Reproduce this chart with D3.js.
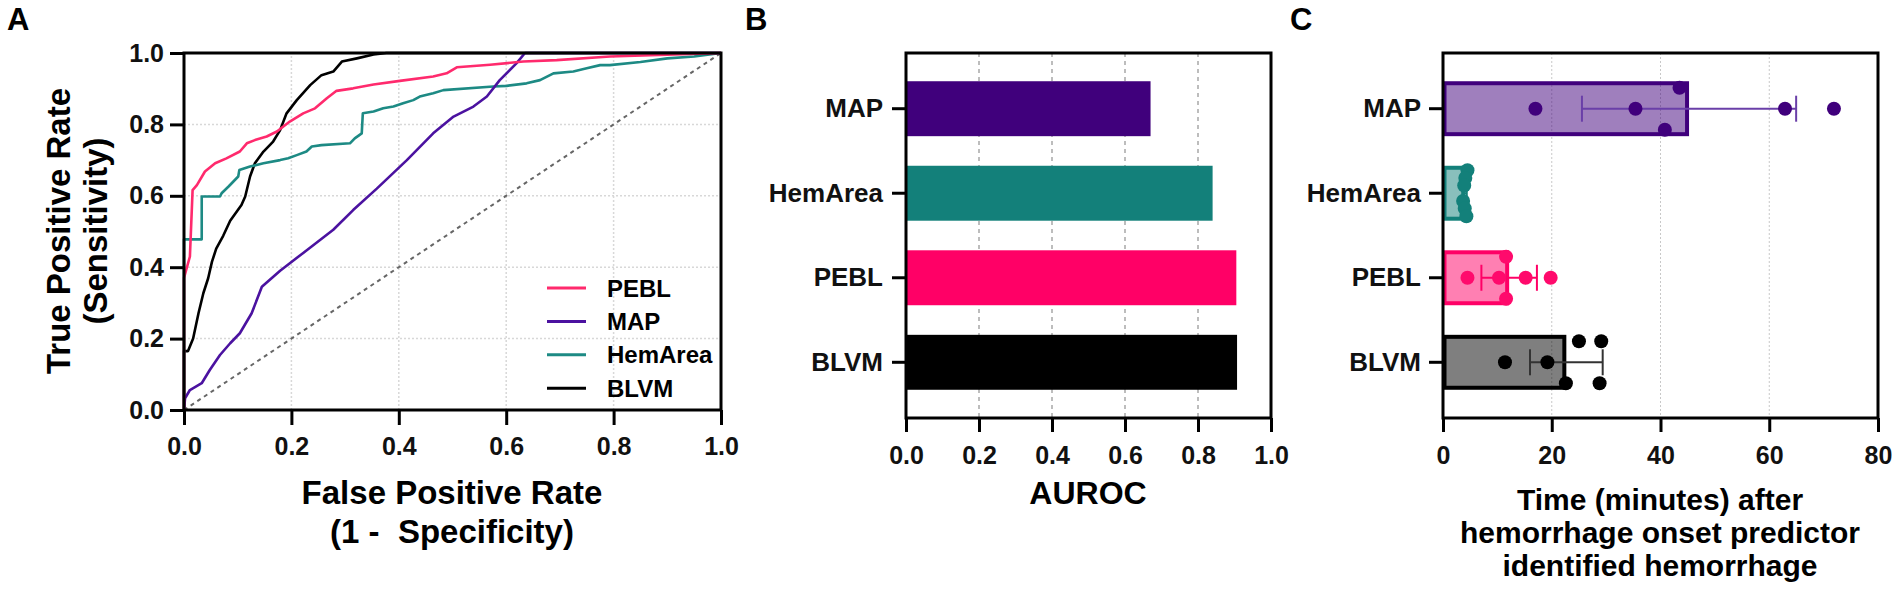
<!DOCTYPE html>
<html>
<head>
<meta charset="utf-8">
<script src="https://cdn.jsdelivr.net/npm/d3@7"></script>
<style>
  body { margin: 0; background: #fff; }
  svg { display: block; font-family: "Liberation Sans", Arial, sans-serif; font-weight: bold; }
</style>
</head>
<body>
<svg id="fig" width="1901" height="594"></svg>
<script>
// ---- data ----

// panel A: ROC curves, [false positive rate, true positive rate]
const rocPEBL = [[0,0],[0,0.37],[0.011,0.43],[0.016,0.616],[0.024,0.63],[0.039,0.668],[0.058,0.691],
  [0.079,0.705],[0.104,0.724],[0.117,0.747],[0.132,0.756],[0.154,0.766],[0.173,0.78],[0.197,0.808],
  [0.222,0.831],[0.244,0.845],[0.266,0.873],[0.284,0.894],[0.315,0.901],[0.353,0.912],[0.402,0.922],
  [0.464,0.934],[0.489,0.943],[0.508,0.96],[0.57,0.967],[0.632,0.976],[0.694,0.98],[0.793,0.99],
  [0.9,0.995],[1,1]]
const rocMAP = [[0,0],[0.002,0.033],[0.011,0.056],[0.033,0.075],[0.048,0.112],[0.067,0.154],[0.086,0.187],
  [0.104,0.215],[0.126,0.271],[0.145,0.345],[0.179,0.39],[0.222,0.44],[0.278,0.505],[0.315,0.56],
  [0.359,0.62],[0.415,0.7],[0.464,0.775],[0.502,0.822],[0.539,0.85],[0.564,0.878],[0.588,0.924],
  [0.619,0.971],[0.635,1],[1,1]]
const rocHemArea = [[0,0],[0,0.478],[0.033,0.478],[0.033,0.598],[0.067,0.598],[0.07,0.607],[0.083,0.626],
  [0.092,0.64],[0.101,0.654],[0.103,0.672],[0.123,0.682],[0.148,0.691],[0.179,0.7],[0.194,0.705],
  [0.21,0.714],[0.228,0.724],[0.238,0.738],[0.256,0.742],[0.309,0.747],[0.318,0.761],[0.331,0.775],
  [0.333,0.831],[0.353,0.836],[0.371,0.845],[0.39,0.85],[0.408,0.859],[0.427,0.868],[0.439,0.878],
  [0.464,0.887],[0.483,0.896],[0.576,0.906],[0.601,0.908],[0.638,0.915],[0.663,0.924],[0.688,0.943],
  [0.725,0.948],[0.75,0.957],[0.775,0.966],[0.793,0.966],[0.85,0.975],[0.9,0.985],[0.95,0.99],[1,1]]
const rocBLVM = [[0,0],[0,0.165],[0.0075,0.165],[0.017,0.2],[0.027,0.271],[0.036,0.327],[0.045,0.369],
  [0.052,0.415],[0.06,0.452],[0.073,0.488],[0.086,0.53],[0.097,0.553],[0.107,0.574],[0.114,0.598],
  [0.123,0.654],[0.132,0.691],[0.148,0.724],[0.166,0.752],[0.179,0.784],[0.191,0.831],[0.21,0.868],
  [0.235,0.91],[0.256,0.938],[0.278,0.948],[0.294,0.976],[0.322,0.985],[0.353,0.996],[0.377,1],[1,1]]

// panel B: area under ROC
const predictors = ['MAP', 'HemArea', 'PEBL', 'BLVM']
const aurocValues = [0.67, 0.84, 0.905, 0.907]

// panel C: minutes after onset, one value per subject
const timesMAP = [17.0, 35.4, 43.5, 40.8, 62.9, 71.9]
const timesHemArea = [3.7, 4.0, 4.3, 4.5, 4.1, 3.9]
const timesPEBL = [4.5, 10.3, 11.6, 11.6, 15.2, 19.8]
const timesBLVM = [11.4, 19.2, 25.0, 29.1, 22.6, 28.8]

const legendOrder = ['PEBL', 'MAP', 'HemArea', 'BLVM']

// ---- styling ----
const lineColor = { PEBL: '#ff2a6d', MAP: '#4b12a0', HemArea: '#1d8a84', BLVM: '#000' }
const barColor = { PEBL: '#ff0066', MAP: '#40007c', HemArea: '#13807a', BLVM: '#000' }

const svg = d3.select('#fig')

const styleAxis = (g, size) => {
  g.select('.domain').remove()
  g.selectAll('.tick line').attr('stroke', '#000').attr('stroke-width', 3)
  g.selectAll('.tick text').attr('font-size', size).attr('fill', '#111')
    .attr('font-family', '"Liberation Sans", Arial, sans-serif').attr('font-weight', 'bold')
}

const panelLetter = (txt, x) => svg.append('text').attr('x', x).attr('y', 30)
  .attr('font-size', 31).text(txt)

// ================= panel A =================
const xA = d3.scaleLinear().domain([0, 1]).range([184, 721])
const yA = d3.scaleLinear().domain([0, 1]).range([410, 53])
const gA = svg.append('g')
const gridVals = [0.2, 0.4, 0.6, 0.8]

gA.selectAll('.vgrid').data(gridVals).enter().append('line')
  .attr('x1', d => xA(d)).attr('x2', d => xA(d)).attr('y1', yA(0)).attr('y2', yA(1))
  .attr('stroke', '#d8d8d8').attr('stroke-width', 1.5).attr('stroke-dasharray', '2,2')
gA.selectAll('.hgrid').data(gridVals).enter().append('line')
  .attr('y1', d => yA(d)).attr('y2', d => yA(d)).attr('x1', xA(0)).attr('x2', xA(1))
  .attr('stroke', '#d8d8d8').attr('stroke-width', 1.5).attr('stroke-dasharray', '2,2')

// chance line
gA.append('line')
  .attr('x1', xA(0)).attr('y1', yA(0)).attr('x2', xA(1)).attr('y2', yA(1))
  .attr('stroke', '#666').attr('stroke-width', 2).attr('stroke-dasharray', '4,4')

const rocLine = d3.line().x(d => xA(d[0])).y(d => yA(d[1]))
const rocSeries = [
  { name: 'BLVM', pts: rocBLVM },
  { name: 'HemArea', pts: rocHemArea },
  { name: 'MAP', pts: rocMAP },
  { name: 'PEBL', pts: rocPEBL }
]
gA.selectAll('.roc').data(rocSeries).enter().append('path')
  .attr('d', d => rocLine(d.pts))
  .attr('fill', 'none')
  .attr('stroke', d => lineColor[d.name])
  .attr('stroke-width', 2.6)
  .attr('stroke-linejoin', 'round')

const tickA = d3.range(0, 1.001, 0.2)
gA.append('g').attr('transform', 'translate(0,410)')
  .call(d3.axisBottom(xA).tickValues(tickA).tickFormat(d3.format('.1f')).tickSize(15).tickPadding(12))
  .call(g => styleAxis(g, 25))
gA.append('g').attr('transform', 'translate(184,0)')
  .call(d3.axisLeft(yA).tickValues(tickA).tickFormat(d3.format('.1f')).tickSize(14).tickPadding(6))
  .call(g => styleAxis(g, 25))
gA.append('rect').attr('x', xA(0)).attr('y', yA(1))
  .attr('width', xA(1) - xA(0)).attr('height', yA(0) - yA(1))
  .attr('fill', 'none').attr('stroke', '#000').attr('stroke-width', 3)

// legend
const leg = gA.selectAll('.leg').data(legendOrder).enter().append('g')
  .attr('transform', (d, i) => `translate(547,${288 + i * 33.4})`)
leg.append('line').attr('x1', 0).attr('x2', 39)
  .attr('stroke', d => lineColor[d]).attr('stroke-width', 3)
leg.append('text').attr('x', 60).attr('dy', '0.36em').attr('font-size', 24).text(d => d)

// titles
gA.append('text').attr('text-anchor', 'middle').attr('font-size', 33)
  .attr('transform', 'translate(70,231) rotate(-90)').text('True Positive Rate')
gA.append('text').attr('text-anchor', 'middle').attr('font-size', 33)
  .attr('transform', 'translate(107,231) rotate(-90)').text('(Sensitivity)')
gA.append('text').attr('text-anchor', 'middle').attr('font-size', 33)
  .attr('x', 452).attr('y', 504).text('False Positive Rate')
gA.append('text').attr('text-anchor', 'middle').attr('font-size', 33)
  .attr('x', 452).attr('y', 543).attr('xml:space', 'preserve').style('white-space', 'pre')
  .text('(1 -  Specificity)')
panelLetter('A', 7)

// ================= panel B =================
const xB = d3.scaleLinear().domain([0, 1]).range([906, 1271])
const yBand = d3.scaleBand().domain(predictors).range([53, 418])
  .paddingInner(0.35).paddingOuter(0.334)
const gB = svg.append('g')

gB.selectAll('.grid').data(gridVals).enter().append('line')
  .attr('x1', d => xB(d)).attr('x2', d => xB(d)).attr('y1', 53).attr('y2', 418)
  .attr('stroke', '#a8a8a8').attr('stroke-width', 1.5).attr('stroke-dasharray', '4,4')

gB.selectAll('.bar').data(predictors).enter().append('rect')
  .attr('x', xB(0))
  .attr('y', d => yBand(d))
  .attr('width', (d, i) => xB(aurocValues[i]) - xB(0))
  .attr('height', yBand.bandwidth())
  .attr('fill', d => barColor[d])

gB.append('g').attr('transform', 'translate(0,418)')
  .call(d3.axisBottom(xB).tickValues(tickA).tickFormat(d3.format('.1f')).tickSize(14).tickPadding(14))
  .call(g => styleAxis(g, 25))
gB.append('g').attr('transform', 'translate(906,0)')
  .call(d3.axisLeft(yBand).tickSize(14).tickPadding(9))
  .call(g => styleAxis(g, 26))
gB.append('rect').attr('x', 906).attr('y', 53).attr('width', 365).attr('height', 365)
  .attr('fill', 'none').attr('stroke', '#000').attr('stroke-width', 3)
gB.append('text').attr('text-anchor', 'middle').attr('font-size', 32)
  .attr('x', 1088).attr('y', 504).text('AUROC')
panelLetter('B', 745)

// ================= panel C =================
const xC = d3.scaleLinear().domain([0, 80]).range([1443, 1878])
const gC = svg.append('g')
const timeSets = [
  { name: 'MAP', vals: timesMAP },
  { name: 'HemArea', vals: timesHemArea },
  { name: 'PEBL', vals: timesPEBL },
  { name: 'BLVM', vals: timesBLVM }
]

gC.selectAll('.grid').data([20, 40, 60]).enter().append('line')
  .attr('x1', d => xC(d)).attr('x2', d => xC(d)).attr('y1', 53).attr('y2', 418)
  .attr('stroke', '#c8c8c8').attr('stroke-width', 1).attr('stroke-dasharray', '2,2')

// bars = mean
gC.selectAll('.bar').data(timeSets).enter().append('rect')
  .attr('x', xC(0) + 1.5)
  .attr('y', d => yBand(d.name) + 2)
  .attr('width', d => xC(d3.mean(d.vals)) - xC(0) - 3.5)
  .attr('height', yBand.bandwidth() - 4)
  .attr('fill', d => barColor[d.name]).attr('fill-opacity', 0.5)
  .attr('stroke', d => barColor[d.name]).attr('stroke-width', 4)

// error bars = mean +/- SD
const err = gC.selectAll('.err').data(timeSets).enter().append('g')
  .attr('transform', d => `translate(0,${yBand(d.name) + yBand.bandwidth() / 2})`)
  .attr('stroke', d => d.name === 'MAP' ? '#6a3fa8' : d.name === 'BLVM' ? '#333' : barColor[d.name])
  .attr('stroke-width', 2)
err.append('line')
  .attr('x1', d => xC(d3.mean(d.vals) - d3.deviation(d.vals)))
  .attr('x2', d => xC(d3.mean(d.vals) + d3.deviation(d.vals)))
err.selectAll('.cap').data(d => [d3.mean(d.vals) - d3.deviation(d.vals), d3.mean(d.vals) + d3.deviation(d.vals)])
  .enter().append('line')
  .attr('x1', d => xC(d)).attr('x2', d => xC(d)).attr('y1', -13).attr('y2', 13)

// scatter: dots that sit close together are spread across the band
function spread(vals) {
  const order = d3.range(vals.length).sort((a, b) => vals[a] - vals[b])
  const groups = []
  let cur = [order[0]]
  for (let i = 1; i < order.length; i++) {
    if (xC(vals[order[i]]) - xC(vals[order[i - 1]]) < 16) cur.push(order[i])
    else { groups.push(cur); cur = [order[i]] }
  }
  groups.push(cur)
  const off = vals.map(() => 0)
  groups.forEach(g => {
    const k = g.length
    if (k === 1) return
    const slots = []
    if (k % 2) { slots.push(0); for (let s = 1; slots.length < k; s++) slots.push(-s, s) }
    else { for (let s = 1; slots.length < k; s++) slots.push(s, -s) }
    const step = Math.min(21, 23 / d3.max(slots, Math.abs))
    g.forEach((j, i) => { off[j] = slots[i] * step })
  })
  return off
}

timeSets.forEach(set => {
  const off = spread(set.vals)
  const cy = yBand(set.name) + yBand.bandwidth() / 2
  gC.append('g').selectAll('circle').data(set.vals).enter().append('circle')
    .attr('cx', d => xC(d))
    .attr('cy', (d, i) => cy + off[i])
    .attr('r', 7)
    .attr('fill', set.name === 'PEBL' ? '#ff0a6c' : barColor[set.name])
})

gC.append('g').attr('transform', 'translate(0,418)')
  .call(d3.axisBottom(xC).tickValues([0, 20, 40, 60, 80]).tickSize(14).tickPadding(14))
  .call(g => styleAxis(g, 25))
gC.append('g').attr('transform', 'translate(1443,0)')
  .call(d3.axisLeft(yBand).tickSize(14).tickPadding(8))
  .call(g => styleAxis(g, 26))
gC.append('rect').attr('x', 1443).attr('y', 53).attr('width', 435).attr('height', 365)
  .attr('fill', 'none').attr('stroke', '#000').attr('stroke-width', 3)

const titleC = ['Time (minutes) after', 'hemorrhage onset predictor', 'identified hemorrhage']
gC.selectAll('.title').data(titleC).enter().append('text')
  .attr('text-anchor', 'middle').attr('font-size', 30)
  .attr('x', 1660).attr('y', (d, i) => 510 + i * 33).text(d => d)
panelLetter('C', 1290)
</script>
</body>
</html>
